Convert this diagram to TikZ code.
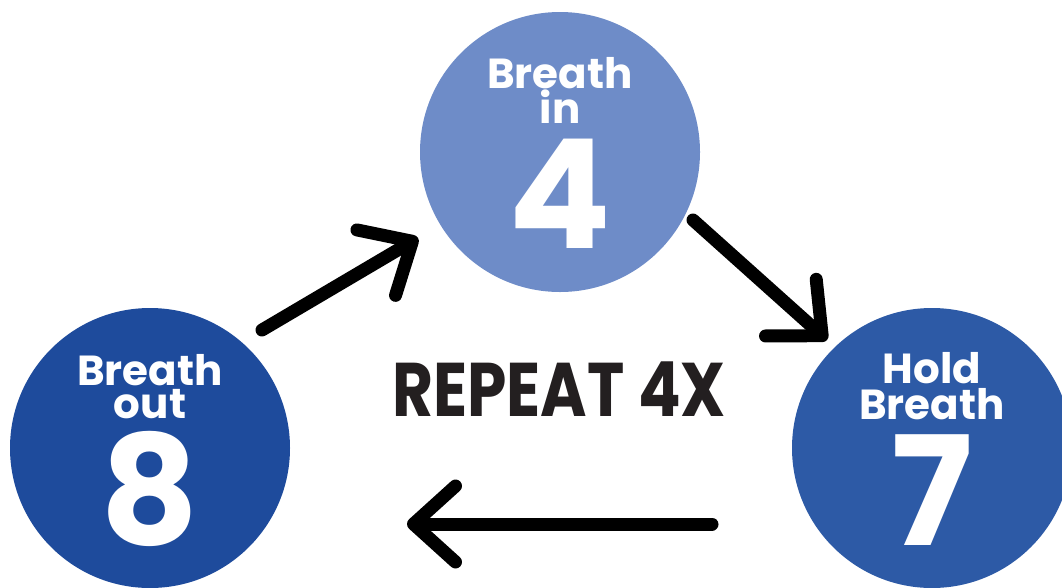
\documentclass[tikz,border=0pt]{standalone}
\usepackage{fontspec}
\setmainfont{Poppins}
\usepackage{graphicx}
\usepackage{tikz}
\usetikzlibrary{arrows.meta,calc}
\definecolor{cclaro}{HTML}{6E8CC8}
\definecolor{coscuro}{HTML}{1E4B9C}
\definecolor{cmedio}{HTML}{2D5AA6}
\definecolor{ctinta}{HTML}{231F20}
\tikzset{
  circulo/.style={circle, minimum size=280pt, inner sep=0pt},
  etq/.style={anchor=base, inner sep=0pt, text=white,
    font=\fontsize{42}{42}\selectfont\bfseries},
  cifra/.style={inner sep=0pt, text=white,
    font=\fontsize{152}{152}\selectfont\bfseries},
  flecha/.style={-{Straight Barb[length=42pt, width=76pt, line cap=round, line join=round]},
    line width=13pt, line cap=round, draw=black},
}

\begin{document}
\begin{tikzpicture}[x=1pt, y=-1pt]
  \useasboundingbox (0,0) rectangle (1062,587);
  \clip (0,0) rectangle (1062,587);
  % the three steps
  \node[circulo, fill=cclaro] (in) at (560,152) {};
  \node[circulo, fill=cmedio] (ho) at (932,448) {};
  \node[circulo, fill=coscuro] (out) at (150,448) {};
  % labels
  \node[etq] (inA) at ($(in)+(0,-64)$) {Breath};
  \node[etq] (inB) at ($(in)+(0,-29)$) {in};
  \node[cifra] (inN) at ($(in)+(0,42)$) {4};
  \node[etq] (hoA) at ($(ho)+(0,-65)$) {Hold};
  \node[etq] (hoB) at ($(ho)+(0,-29)$) {Breath};
  \node[cifra] (hoN) at ($(ho)+(0,42)$) {7};
  \node[etq] (outA) at ($(out)+(0,-63)$) {Breath};
  \node[etq] (outB) at ($(out)+(0,-30)$) {out};
  \node[cifra] (outN) at ($(out)+(0,41)$) {8};
  \node[text=ctinta, inner sep=0pt, font=\fontsize{76}{76}\selectfont\bfseries] (rep) at (559,389)
    {\scalebox{0.83}[1]{REPEAT 4X}};
  % arrows
  \draw[flecha] ($(out)+(112,-118)$) -- ($(in)+(-142,86)$);
  \draw[flecha] ($(in)+(133,68)$) -- ($(ho)+(-105,-108)$);
  \draw[flecha] ($(ho)+(-220,76)$) -- ($(out)+(257,76)$);
\end{tikzpicture}
\end{document}
